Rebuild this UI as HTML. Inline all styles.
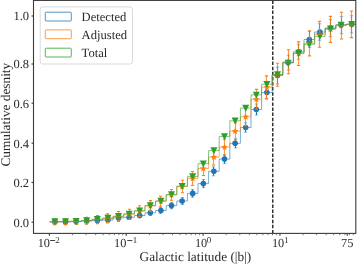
<!DOCTYPE html>
<html><head><meta charset="utf-8"><style>
html,body{margin:0;padding:0;background:#fff;}
svg{display:block;will-change:transform;}
text{font-family:"Liberation Serif",serif;fill:#2a2a2a;text-rendering:geometricPrecision;}
</style></head><body>
<svg width="357" height="265" viewBox="0 0 357 265">
<rect width="357" height="265" fill="#fff"/>
<defs><clipPath id="ax"><rect x="33.5" y="0.4" width="322.3" height="233.0"/></clipPath></defs>

<line x1="272.8" y1="233.4" x2="272.8" y2="0.4" stroke="#000" stroke-width="1.2" stroke-dasharray="3.5 1.6"/>
<g clip-path="url(#ax)">
<line x1="54.50" y1="221.20" x2="54.50" y2="222.80" stroke="#1f77b4" stroke-width="1.1"/>
<line x1="52.80" y1="221.20" x2="56.20" y2="221.20" stroke="#1f77b4" stroke-opacity="0.5" stroke-width="1"/>
<line x1="52.80" y1="222.80" x2="56.20" y2="222.80" stroke="#1f77b4" stroke-opacity="0.5" stroke-width="1"/>
<circle cx="54.90" cy="222.00" r="2.8" fill="#1f77b4"/>
<line x1="65.50" y1="221.00" x2="65.50" y2="222.80" stroke="#1f77b4" stroke-width="1.1"/>
<line x1="63.80" y1="221.00" x2="67.20" y2="221.00" stroke="#1f77b4" stroke-opacity="0.5" stroke-width="1"/>
<line x1="63.80" y1="222.80" x2="67.20" y2="222.80" stroke="#1f77b4" stroke-opacity="0.5" stroke-width="1"/>
<circle cx="65.50" cy="221.90" r="2.8" fill="#1f77b4"/>
<line x1="76.50" y1="220.60" x2="76.50" y2="222.60" stroke="#1f77b4" stroke-width="1.1"/>
<line x1="74.80" y1="220.60" x2="78.20" y2="220.60" stroke="#1f77b4" stroke-opacity="0.5" stroke-width="1"/>
<line x1="74.80" y1="222.60" x2="78.20" y2="222.60" stroke="#1f77b4" stroke-opacity="0.5" stroke-width="1"/>
<circle cx="76.10" cy="221.60" r="2.8" fill="#1f77b4"/>
<line x1="86.50" y1="219.80" x2="86.50" y2="222.20" stroke="#1f77b4" stroke-width="1.1"/>
<line x1="84.80" y1="219.80" x2="88.20" y2="219.80" stroke="#1f77b4" stroke-opacity="0.5" stroke-width="1"/>
<line x1="84.80" y1="222.20" x2="88.20" y2="222.20" stroke="#1f77b4" stroke-opacity="0.5" stroke-width="1"/>
<circle cx="86.70" cy="221.00" r="2.8" fill="#1f77b4"/>
<line x1="97.50" y1="219.20" x2="97.50" y2="222.00" stroke="#1f77b4" stroke-width="1.1"/>
<line x1="95.80" y1="219.20" x2="99.20" y2="219.20" stroke="#1f77b4" stroke-opacity="0.5" stroke-width="1"/>
<line x1="95.80" y1="222.00" x2="99.20" y2="222.00" stroke="#1f77b4" stroke-opacity="0.5" stroke-width="1"/>
<circle cx="97.30" cy="220.60" r="2.8" fill="#1f77b4"/>
<line x1="107.50" y1="218.40" x2="107.50" y2="221.60" stroke="#1f77b4" stroke-width="1.1"/>
<line x1="105.80" y1="218.40" x2="109.20" y2="218.40" stroke="#1f77b4" stroke-opacity="0.5" stroke-width="1"/>
<line x1="105.80" y1="221.60" x2="109.20" y2="221.60" stroke="#1f77b4" stroke-opacity="0.5" stroke-width="1"/>
<circle cx="107.90" cy="220.00" r="2.8" fill="#1f77b4"/>
<line x1="118.50" y1="216.10" x2="118.50" y2="219.70" stroke="#1f77b4" stroke-width="1.1"/>
<line x1="116.80" y1="216.10" x2="120.20" y2="216.10" stroke="#1f77b4" stroke-opacity="0.5" stroke-width="1"/>
<line x1="116.80" y1="219.70" x2="120.20" y2="219.70" stroke="#1f77b4" stroke-opacity="0.5" stroke-width="1"/>
<circle cx="118.50" cy="217.90" r="2.8" fill="#1f77b4"/>
<line x1="129.50" y1="215.30" x2="129.50" y2="219.30" stroke="#1f77b4" stroke-width="1.1"/>
<line x1="127.80" y1="215.30" x2="131.20" y2="215.30" stroke="#1f77b4" stroke-opacity="0.5" stroke-width="1"/>
<line x1="127.80" y1="219.30" x2="131.20" y2="219.30" stroke="#1f77b4" stroke-opacity="0.5" stroke-width="1"/>
<circle cx="129.10" cy="217.30" r="2.8" fill="#1f77b4"/>
<line x1="139.50" y1="213.20" x2="139.50" y2="217.80" stroke="#1f77b4" stroke-width="1.1"/>
<line x1="137.80" y1="213.20" x2="141.20" y2="213.20" stroke="#1f77b4" stroke-opacity="0.5" stroke-width="1"/>
<line x1="137.80" y1="217.80" x2="141.20" y2="217.80" stroke="#1f77b4" stroke-opacity="0.5" stroke-width="1"/>
<circle cx="139.70" cy="215.50" r="2.8" fill="#1f77b4"/>
<line x1="150.50" y1="210.20" x2="150.50" y2="215.40" stroke="#1f77b4" stroke-width="1.1"/>
<line x1="148.80" y1="210.20" x2="152.20" y2="210.20" stroke="#1f77b4" stroke-opacity="0.5" stroke-width="1"/>
<line x1="148.80" y1="215.40" x2="152.20" y2="215.40" stroke="#1f77b4" stroke-opacity="0.5" stroke-width="1"/>
<circle cx="150.30" cy="212.80" r="2.8" fill="#1f77b4"/>
<line x1="160.50" y1="207.60" x2="160.50" y2="213.40" stroke="#1f77b4" stroke-width="1.1"/>
<line x1="158.80" y1="207.60" x2="162.20" y2="207.60" stroke="#1f77b4" stroke-opacity="0.5" stroke-width="1"/>
<line x1="158.80" y1="213.40" x2="162.20" y2="213.40" stroke="#1f77b4" stroke-opacity="0.5" stroke-width="1"/>
<circle cx="160.90" cy="210.50" r="2.8" fill="#1f77b4"/>
<line x1="171.50" y1="202.40" x2="171.50" y2="208.80" stroke="#1f77b4" stroke-width="1.1"/>
<line x1="169.80" y1="202.40" x2="173.20" y2="202.40" stroke="#1f77b4" stroke-opacity="0.5" stroke-width="1"/>
<line x1="169.80" y1="208.80" x2="173.20" y2="208.80" stroke="#1f77b4" stroke-opacity="0.5" stroke-width="1"/>
<circle cx="171.50" cy="205.60" r="2.8" fill="#1f77b4"/>
<line x1="182.50" y1="197.50" x2="182.50" y2="204.50" stroke="#1f77b4" stroke-width="1.1"/>
<line x1="180.80" y1="197.50" x2="184.20" y2="197.50" stroke="#1f77b4" stroke-opacity="0.5" stroke-width="1"/>
<line x1="180.80" y1="204.50" x2="184.20" y2="204.50" stroke="#1f77b4" stroke-opacity="0.5" stroke-width="1"/>
<circle cx="182.10" cy="201.00" r="2.8" fill="#1f77b4"/>
<line x1="192.50" y1="189.60" x2="192.50" y2="197.20" stroke="#1f77b4" stroke-width="1.1"/>
<line x1="190.80" y1="189.60" x2="194.20" y2="189.60" stroke="#1f77b4" stroke-opacity="0.5" stroke-width="1"/>
<line x1="190.80" y1="197.20" x2="194.20" y2="197.20" stroke="#1f77b4" stroke-opacity="0.5" stroke-width="1"/>
<circle cx="192.70" cy="193.40" r="2.8" fill="#1f77b4"/>
<line x1="203.50" y1="179.50" x2="203.50" y2="187.70" stroke="#1f77b4" stroke-width="1.1"/>
<line x1="201.80" y1="179.50" x2="205.20" y2="179.50" stroke="#1f77b4" stroke-opacity="0.5" stroke-width="1"/>
<line x1="201.80" y1="187.70" x2="205.20" y2="187.70" stroke="#1f77b4" stroke-opacity="0.5" stroke-width="1"/>
<circle cx="203.30" cy="183.60" r="2.8" fill="#1f77b4"/>
<line x1="213.50" y1="166.80" x2="213.50" y2="175.80" stroke="#1f77b4" stroke-width="1.1"/>
<line x1="211.80" y1="166.80" x2="215.20" y2="166.80" stroke="#1f77b4" stroke-opacity="0.5" stroke-width="1"/>
<line x1="211.80" y1="175.80" x2="215.20" y2="175.80" stroke="#1f77b4" stroke-opacity="0.5" stroke-width="1"/>
<circle cx="213.90" cy="171.30" r="2.8" fill="#1f77b4"/>
<line x1="224.50" y1="154.60" x2="224.50" y2="163.60" stroke="#1f77b4" stroke-width="1.1"/>
<line x1="222.80" y1="154.60" x2="226.20" y2="154.60" stroke="#1f77b4" stroke-opacity="0.5" stroke-width="1"/>
<line x1="222.80" y1="163.60" x2="226.20" y2="163.60" stroke="#1f77b4" stroke-opacity="0.5" stroke-width="1"/>
<circle cx="224.50" cy="159.10" r="2.8" fill="#1f77b4"/>
<line x1="235.50" y1="138.70" x2="235.50" y2="147.90" stroke="#1f77b4" stroke-width="1.1"/>
<line x1="233.80" y1="138.70" x2="237.20" y2="138.70" stroke="#1f77b4" stroke-opacity="0.5" stroke-width="1"/>
<line x1="233.80" y1="147.90" x2="237.20" y2="147.90" stroke="#1f77b4" stroke-opacity="0.5" stroke-width="1"/>
<circle cx="235.10" cy="143.30" r="2.8" fill="#1f77b4"/>
<line x1="245.50" y1="122.80" x2="245.50" y2="132.20" stroke="#1f77b4" stroke-width="1.1"/>
<line x1="243.80" y1="122.80" x2="247.20" y2="122.80" stroke="#1f77b4" stroke-opacity="0.5" stroke-width="1"/>
<line x1="243.80" y1="132.20" x2="247.20" y2="132.20" stroke="#1f77b4" stroke-opacity="0.5" stroke-width="1"/>
<circle cx="245.70" cy="127.50" r="2.8" fill="#1f77b4"/>
<line x1="256.50" y1="104.00" x2="256.50" y2="115.00" stroke="#1f77b4" stroke-width="1.1"/>
<line x1="254.80" y1="104.00" x2="258.20" y2="104.00" stroke="#1f77b4" stroke-opacity="0.5" stroke-width="1"/>
<line x1="254.80" y1="115.00" x2="258.20" y2="115.00" stroke="#1f77b4" stroke-opacity="0.5" stroke-width="1"/>
<circle cx="256.30" cy="109.50" r="2.8" fill="#1f77b4"/>
<line x1="266.50" y1="86.00" x2="266.50" y2="99.00" stroke="#1f77b4" stroke-width="1.1"/>
<line x1="264.80" y1="86.00" x2="268.20" y2="86.00" stroke="#1f77b4" stroke-opacity="0.5" stroke-width="1"/>
<line x1="264.80" y1="99.00" x2="268.20" y2="99.00" stroke="#1f77b4" stroke-opacity="0.5" stroke-width="1"/>
<circle cx="266.90" cy="92.50" r="2.8" fill="#1f77b4"/>
<line x1="277.50" y1="67.10" x2="277.50" y2="83.90" stroke="#1f77b4" stroke-width="1.1"/>
<line x1="275.80" y1="67.10" x2="279.20" y2="67.10" stroke="#1f77b4" stroke-opacity="0.5" stroke-width="1"/>
<line x1="275.80" y1="83.90" x2="279.20" y2="83.90" stroke="#1f77b4" stroke-opacity="0.5" stroke-width="1"/>
<circle cx="277.50" cy="75.50" r="2.8" fill="#1f77b4"/>
<line x1="288.50" y1="55.10" x2="288.50" y2="70.10" stroke="#1f77b4" stroke-width="1.1"/>
<line x1="286.80" y1="55.10" x2="290.20" y2="55.10" stroke="#1f77b4" stroke-opacity="0.5" stroke-width="1"/>
<line x1="286.80" y1="70.10" x2="290.20" y2="70.10" stroke="#1f77b4" stroke-opacity="0.5" stroke-width="1"/>
<circle cx="288.10" cy="62.60" r="2.8" fill="#1f77b4"/>
<line x1="298.50" y1="44.30" x2="298.50" y2="59.30" stroke="#1f77b4" stroke-width="1.1"/>
<line x1="296.80" y1="44.30" x2="300.20" y2="44.30" stroke="#1f77b4" stroke-opacity="0.5" stroke-width="1"/>
<line x1="296.80" y1="59.30" x2="300.20" y2="59.30" stroke="#1f77b4" stroke-opacity="0.5" stroke-width="1"/>
<circle cx="298.70" cy="51.80" r="2.8" fill="#1f77b4"/>
<line x1="309.50" y1="31.50" x2="309.50" y2="47.50" stroke="#1f77b4" stroke-width="1.1"/>
<line x1="307.80" y1="31.50" x2="311.20" y2="31.50" stroke="#1f77b4" stroke-opacity="0.5" stroke-width="1"/>
<line x1="307.80" y1="47.50" x2="311.20" y2="47.50" stroke="#1f77b4" stroke-opacity="0.5" stroke-width="1"/>
<circle cx="309.30" cy="39.50" r="2.8" fill="#1f77b4"/>
<line x1="319.50" y1="23.70" x2="319.50" y2="40.30" stroke="#1f77b4" stroke-width="1.1"/>
<line x1="317.80" y1="23.70" x2="321.20" y2="23.70" stroke="#1f77b4" stroke-opacity="0.5" stroke-width="1"/>
<line x1="317.80" y1="40.30" x2="321.20" y2="40.30" stroke="#1f77b4" stroke-opacity="0.5" stroke-width="1"/>
<circle cx="319.90" cy="32.00" r="2.8" fill="#1f77b4"/>
<line x1="330.50" y1="19.30" x2="330.50" y2="36.70" stroke="#1f77b4" stroke-width="1.1"/>
<line x1="328.80" y1="19.30" x2="332.20" y2="19.30" stroke="#1f77b4" stroke-opacity="0.5" stroke-width="1"/>
<line x1="328.80" y1="36.70" x2="332.20" y2="36.70" stroke="#1f77b4" stroke-opacity="0.5" stroke-width="1"/>
<circle cx="330.50" cy="28.00" r="2.8" fill="#1f77b4"/>
<line x1="341.50" y1="16.40" x2="341.50" y2="33.60" stroke="#1f77b4" stroke-width="1.1"/>
<line x1="339.80" y1="16.40" x2="343.20" y2="16.40" stroke="#1f77b4" stroke-opacity="0.5" stroke-width="1"/>
<line x1="339.80" y1="33.60" x2="343.20" y2="33.60" stroke="#1f77b4" stroke-opacity="0.5" stroke-width="1"/>
<circle cx="341.10" cy="25.00" r="2.8" fill="#1f77b4"/>
<line x1="351.50" y1="15.70" x2="351.50" y2="32.90" stroke="#1f77b4" stroke-width="1.1"/>
<line x1="349.80" y1="15.70" x2="353.20" y2="15.70" stroke="#1f77b4" stroke-opacity="0.5" stroke-width="1"/>
<line x1="349.80" y1="32.90" x2="353.20" y2="32.90" stroke="#1f77b4" stroke-opacity="0.5" stroke-width="1"/>
<circle cx="351.70" cy="24.30" r="2.8" fill="#1f77b4"/>
<line x1="54.50" y1="219.10" x2="54.50" y2="224.70" stroke="#ff7f0e" stroke-opacity="0.8" stroke-width="1.15"/>
<line x1="52.90" y1="219.10" x2="56.10" y2="219.10" stroke="#ff7f0e" stroke-width="1.1"/>
<line x1="52.90" y1="224.70" x2="56.10" y2="224.70" stroke="#ff7f0e" stroke-width="1.1"/>
<polygon points="54.90,218.30 55.81,220.65 58.32,220.79 56.37,222.38 57.02,224.81 54.90,223.45 52.78,224.81 53.43,222.38 51.48,220.79 53.99,220.65" fill="#ff7f0e"/>
<line x1="65.50" y1="218.80" x2="65.50" y2="224.60" stroke="#ff7f0e" stroke-opacity="0.8" stroke-width="1.15"/>
<line x1="63.90" y1="218.80" x2="67.10" y2="218.80" stroke="#ff7f0e" stroke-width="1.1"/>
<line x1="63.90" y1="224.60" x2="67.10" y2="224.60" stroke="#ff7f0e" stroke-width="1.1"/>
<polygon points="65.50,218.10 66.41,220.45 68.92,220.59 66.97,222.18 67.62,224.61 65.50,223.25 63.38,224.61 64.03,222.18 62.08,220.59 64.59,220.45" fill="#ff7f0e"/>
<line x1="76.50" y1="218.45" x2="76.50" y2="224.45" stroke="#ff7f0e" stroke-opacity="0.8" stroke-width="1.15"/>
<line x1="74.90" y1="218.45" x2="78.10" y2="218.45" stroke="#ff7f0e" stroke-width="1.1"/>
<line x1="74.90" y1="224.45" x2="78.10" y2="224.45" stroke="#ff7f0e" stroke-width="1.1"/>
<polygon points="76.10,217.85 77.01,220.20 79.52,220.34 77.57,221.93 78.22,224.36 76.10,223.00 73.98,224.36 74.63,221.93 72.68,220.34 75.19,220.20" fill="#ff7f0e"/>
<line x1="86.50" y1="217.35" x2="86.50" y2="224.15" stroke="#ff7f0e" stroke-opacity="0.8" stroke-width="1.15"/>
<line x1="84.90" y1="217.35" x2="88.10" y2="217.35" stroke="#ff7f0e" stroke-width="1.1"/>
<line x1="84.90" y1="224.15" x2="88.10" y2="224.15" stroke="#ff7f0e" stroke-width="1.1"/>
<polygon points="86.70,217.15 87.61,219.50 90.12,219.64 88.17,221.23 88.82,223.66 86.70,222.30 84.58,223.66 85.23,221.23 83.28,219.64 85.79,219.50" fill="#ff7f0e"/>
<line x1="97.50" y1="215.60" x2="97.50" y2="223.60" stroke="#ff7f0e" stroke-opacity="0.8" stroke-width="1.15"/>
<line x1="95.90" y1="215.60" x2="99.10" y2="215.60" stroke="#ff7f0e" stroke-width="1.1"/>
<line x1="95.90" y1="223.60" x2="99.10" y2="223.60" stroke="#ff7f0e" stroke-width="1.1"/>
<polygon points="97.30,216.00 98.21,218.35 100.72,218.49 98.77,220.08 99.42,222.51 97.30,221.15 95.18,222.51 95.83,220.08 93.88,218.49 96.39,218.35" fill="#ff7f0e"/>
<line x1="107.50" y1="213.90" x2="107.50" y2="222.90" stroke="#ff7f0e" stroke-opacity="0.8" stroke-width="1.15"/>
<line x1="105.90" y1="213.90" x2="109.10" y2="213.90" stroke="#ff7f0e" stroke-width="1.1"/>
<line x1="105.90" y1="222.90" x2="109.10" y2="222.90" stroke="#ff7f0e" stroke-width="1.1"/>
<polygon points="107.90,214.80 108.81,217.15 111.32,217.29 109.37,218.88 110.02,221.31 107.90,219.95 105.78,221.31 106.43,218.88 104.48,217.29 106.99,217.15" fill="#ff7f0e"/>
<line x1="118.50" y1="211.50" x2="118.50" y2="221.50" stroke="#ff7f0e" stroke-opacity="0.8" stroke-width="1.15"/>
<line x1="116.90" y1="211.50" x2="120.10" y2="211.50" stroke="#ff7f0e" stroke-width="1.1"/>
<line x1="116.90" y1="221.50" x2="120.10" y2="221.50" stroke="#ff7f0e" stroke-width="1.1"/>
<polygon points="118.50,212.90 119.41,215.25 121.92,215.39 119.97,216.98 120.62,219.41 118.50,218.05 116.38,219.41 117.03,216.98 115.08,215.39 117.59,215.25" fill="#ff7f0e"/>
<line x1="129.50" y1="209.20" x2="129.50" y2="219.20" stroke="#ff7f0e" stroke-opacity="0.8" stroke-width="1.15"/>
<line x1="127.90" y1="209.20" x2="131.10" y2="209.20" stroke="#ff7f0e" stroke-width="1.1"/>
<line x1="127.90" y1="219.20" x2="131.10" y2="219.20" stroke="#ff7f0e" stroke-width="1.1"/>
<polygon points="129.10,210.60 130.01,212.95 132.52,213.09 130.57,214.68 131.22,217.11 129.10,215.75 126.98,217.11 127.63,214.68 125.68,213.09 128.19,212.95" fill="#ff7f0e"/>
<line x1="139.50" y1="205.80" x2="139.50" y2="216.20" stroke="#ff7f0e" stroke-opacity="0.8" stroke-width="1.15"/>
<line x1="137.90" y1="205.80" x2="141.10" y2="205.80" stroke="#ff7f0e" stroke-width="1.1"/>
<line x1="137.90" y1="216.20" x2="141.10" y2="216.20" stroke="#ff7f0e" stroke-width="1.1"/>
<polygon points="139.70,207.40 140.61,209.75 143.12,209.89 141.17,211.48 141.82,213.91 139.70,212.55 137.58,213.91 138.23,211.48 136.28,209.89 138.79,209.75" fill="#ff7f0e"/>
<line x1="150.50" y1="200.60" x2="150.50" y2="211.20" stroke="#ff7f0e" stroke-opacity="0.8" stroke-width="1.15"/>
<line x1="148.90" y1="200.60" x2="152.10" y2="200.60" stroke="#ff7f0e" stroke-width="1.1"/>
<line x1="148.90" y1="211.20" x2="152.10" y2="211.20" stroke="#ff7f0e" stroke-width="1.1"/>
<polygon points="150.30,202.30 151.21,204.65 153.72,204.79 151.77,206.38 152.42,208.81 150.30,207.45 148.18,208.81 148.83,206.38 146.88,204.79 149.39,204.65" fill="#ff7f0e"/>
<line x1="160.50" y1="196.30" x2="160.50" y2="206.30" stroke="#ff7f0e" stroke-opacity="0.8" stroke-width="1.15"/>
<line x1="158.90" y1="196.30" x2="162.10" y2="196.30" stroke="#ff7f0e" stroke-width="1.1"/>
<line x1="158.90" y1="206.30" x2="162.10" y2="206.30" stroke="#ff7f0e" stroke-width="1.1"/>
<polygon points="160.90,197.70 161.81,200.05 164.32,200.19 162.37,201.78 163.02,204.21 160.90,202.85 158.78,204.21 159.43,201.78 157.48,200.19 159.99,200.05" fill="#ff7f0e"/>
<line x1="171.50" y1="189.50" x2="171.50" y2="200.30" stroke="#ff7f0e" stroke-opacity="0.8" stroke-width="1.15"/>
<line x1="169.90" y1="189.50" x2="173.10" y2="189.50" stroke="#ff7f0e" stroke-width="1.1"/>
<line x1="169.90" y1="200.30" x2="173.10" y2="200.30" stroke="#ff7f0e" stroke-width="1.1"/>
<polygon points="171.50,191.30 172.41,193.65 174.92,193.79 172.97,195.38 173.62,197.81 171.50,196.45 169.38,197.81 170.03,195.38 168.08,193.79 170.59,193.65" fill="#ff7f0e"/>
<line x1="182.50" y1="180.30" x2="182.50" y2="192.70" stroke="#ff7f0e" stroke-opacity="0.8" stroke-width="1.15"/>
<line x1="180.90" y1="180.30" x2="184.10" y2="180.30" stroke="#ff7f0e" stroke-width="1.1"/>
<line x1="180.90" y1="192.70" x2="184.10" y2="192.70" stroke="#ff7f0e" stroke-width="1.1"/>
<polygon points="182.10,182.90 183.01,185.25 185.52,185.39 183.57,186.98 184.22,189.41 182.10,188.05 179.98,189.41 180.63,186.98 178.68,185.39 181.19,185.25" fill="#ff7f0e"/>
<line x1="192.50" y1="171.45" x2="192.50" y2="185.45" stroke="#ff7f0e" stroke-opacity="0.8" stroke-width="1.15"/>
<line x1="190.90" y1="171.45" x2="194.10" y2="171.45" stroke="#ff7f0e" stroke-width="1.1"/>
<line x1="190.90" y1="185.45" x2="194.10" y2="185.45" stroke="#ff7f0e" stroke-width="1.1"/>
<polygon points="192.70,174.85 193.61,177.20 196.12,177.34 194.17,178.93 194.82,181.36 192.70,180.00 190.58,181.36 191.23,178.93 189.28,177.34 191.79,177.20" fill="#ff7f0e"/>
<line x1="203.50" y1="161.50" x2="203.50" y2="175.50" stroke="#ff7f0e" stroke-opacity="0.8" stroke-width="1.15"/>
<line x1="201.90" y1="161.50" x2="205.10" y2="161.50" stroke="#ff7f0e" stroke-width="1.1"/>
<line x1="201.90" y1="175.50" x2="205.10" y2="175.50" stroke="#ff7f0e" stroke-width="1.1"/>
<polygon points="203.30,164.90 204.21,167.25 206.72,167.39 204.77,168.98 205.42,171.41 203.30,170.05 201.18,171.41 201.83,168.98 199.88,167.39 202.39,167.25" fill="#ff7f0e"/>
<line x1="213.50" y1="149.40" x2="213.50" y2="165.00" stroke="#ff7f0e" stroke-opacity="0.8" stroke-width="1.15"/>
<line x1="211.90" y1="149.40" x2="215.10" y2="149.40" stroke="#ff7f0e" stroke-width="1.1"/>
<line x1="211.90" y1="165.00" x2="215.10" y2="165.00" stroke="#ff7f0e" stroke-width="1.1"/>
<polygon points="213.90,153.60 214.81,155.95 217.32,156.09 215.37,157.68 216.02,160.11 213.90,158.75 211.78,160.11 212.43,157.68 210.48,156.09 212.99,155.95" fill="#ff7f0e"/>
<line x1="224.50" y1="139.20" x2="224.50" y2="155.20" stroke="#ff7f0e" stroke-opacity="0.8" stroke-width="1.15"/>
<line x1="222.90" y1="139.20" x2="226.10" y2="139.20" stroke="#ff7f0e" stroke-width="1.1"/>
<line x1="222.90" y1="155.20" x2="226.10" y2="155.20" stroke="#ff7f0e" stroke-width="1.1"/>
<polygon points="224.50,143.60 225.41,145.95 227.92,146.09 225.97,147.68 226.62,150.11 224.50,148.75 222.38,150.11 223.03,147.68 221.08,146.09 223.59,145.95" fill="#ff7f0e"/>
<line x1="235.50" y1="122.70" x2="235.50" y2="139.70" stroke="#ff7f0e" stroke-opacity="0.8" stroke-width="1.15"/>
<line x1="233.90" y1="122.70" x2="237.10" y2="122.70" stroke="#ff7f0e" stroke-width="1.1"/>
<line x1="233.90" y1="139.70" x2="237.10" y2="139.70" stroke="#ff7f0e" stroke-width="1.1"/>
<polygon points="235.10,127.60 236.01,129.95 238.52,130.09 236.57,131.68 237.22,134.11 235.10,132.75 232.98,134.11 233.63,131.68 231.68,130.09 234.19,129.95" fill="#ff7f0e"/>
<line x1="245.50" y1="107.80" x2="245.50" y2="125.80" stroke="#ff7f0e" stroke-opacity="0.8" stroke-width="1.15"/>
<line x1="243.90" y1="107.80" x2="247.10" y2="107.80" stroke="#ff7f0e" stroke-width="1.1"/>
<line x1="243.90" y1="125.80" x2="247.10" y2="125.80" stroke="#ff7f0e" stroke-width="1.1"/>
<polygon points="245.70,113.20 246.61,115.55 249.12,115.69 247.17,117.28 247.82,119.71 245.70,118.35 243.58,119.71 244.23,117.28 242.28,115.69 244.79,115.55" fill="#ff7f0e"/>
<line x1="256.50" y1="89.40" x2="256.50" y2="109.40" stroke="#ff7f0e" stroke-opacity="0.8" stroke-width="1.15"/>
<line x1="254.90" y1="89.40" x2="258.10" y2="89.40" stroke="#ff7f0e" stroke-width="1.1"/>
<line x1="254.90" y1="109.40" x2="258.10" y2="109.40" stroke="#ff7f0e" stroke-width="1.1"/>
<polygon points="256.30,95.80 257.21,98.15 259.72,98.29 257.77,99.88 258.42,102.31 256.30,100.95 254.18,102.31 254.83,99.88 252.88,98.29 255.39,98.15" fill="#ff7f0e"/>
<line x1="266.50" y1="75.90" x2="266.50" y2="98.60" stroke="#ff7f0e" stroke-opacity="0.8" stroke-width="1.15"/>
<line x1="264.90" y1="75.90" x2="268.10" y2="75.90" stroke="#ff7f0e" stroke-width="1.1"/>
<line x1="264.90" y1="98.60" x2="268.10" y2="98.60" stroke="#ff7f0e" stroke-width="1.1"/>
<polygon points="266.90,83.65 267.81,86.00 270.32,86.14 268.37,87.73 269.02,90.16 266.90,88.80 264.78,90.16 265.43,87.73 263.48,86.14 265.99,86.00" fill="#ff7f0e"/>
<line x1="277.50" y1="63.30" x2="277.50" y2="86.30" stroke="#ff7f0e" stroke-opacity="0.8" stroke-width="1.15"/>
<line x1="275.90" y1="63.30" x2="279.10" y2="63.30" stroke="#ff7f0e" stroke-width="1.1"/>
<line x1="275.90" y1="86.30" x2="279.10" y2="86.30" stroke="#ff7f0e" stroke-width="1.1"/>
<polygon points="277.50,71.20 278.41,73.55 280.92,73.69 278.97,75.28 279.62,77.71 277.50,76.35 275.38,77.71 276.03,75.28 274.08,73.69 276.59,73.55" fill="#ff7f0e"/>
<line x1="288.50" y1="49.80" x2="288.50" y2="73.80" stroke="#ff7f0e" stroke-opacity="0.8" stroke-width="1.15"/>
<line x1="286.90" y1="49.80" x2="290.10" y2="49.80" stroke="#ff7f0e" stroke-width="1.1"/>
<line x1="286.90" y1="73.80" x2="290.10" y2="73.80" stroke="#ff7f0e" stroke-width="1.1"/>
<polygon points="288.10,58.20 289.01,60.55 291.52,60.69 289.57,62.28 290.22,64.71 288.10,63.35 285.98,64.71 286.63,62.28 284.68,60.69 287.19,60.55" fill="#ff7f0e"/>
<line x1="298.50" y1="41.90" x2="298.50" y2="65.50" stroke="#ff7f0e" stroke-opacity="0.8" stroke-width="1.15"/>
<line x1="296.90" y1="41.90" x2="300.10" y2="41.90" stroke="#ff7f0e" stroke-width="1.1"/>
<line x1="296.90" y1="65.50" x2="300.10" y2="65.50" stroke="#ff7f0e" stroke-width="1.1"/>
<polygon points="298.70,50.10 299.61,52.45 302.12,52.59 300.17,54.18 300.82,56.61 298.70,55.25 296.58,56.61 297.23,54.18 295.28,52.59 297.79,52.45" fill="#ff7f0e"/>
<line x1="309.50" y1="30.70" x2="309.50" y2="55.90" stroke="#ff7f0e" stroke-opacity="0.8" stroke-width="1.15"/>
<line x1="307.90" y1="30.70" x2="311.10" y2="30.70" stroke="#ff7f0e" stroke-width="1.1"/>
<line x1="307.90" y1="55.90" x2="311.10" y2="55.90" stroke="#ff7f0e" stroke-width="1.1"/>
<polygon points="309.30,39.70 310.21,42.05 312.72,42.19 310.77,43.78 311.42,46.21 309.30,44.85 307.18,46.21 307.83,43.78 305.88,42.19 308.39,42.05" fill="#ff7f0e"/>
<line x1="319.50" y1="21.40" x2="319.50" y2="47.20" stroke="#ff7f0e" stroke-opacity="0.8" stroke-width="1.15"/>
<line x1="317.90" y1="21.40" x2="321.10" y2="21.40" stroke="#ff7f0e" stroke-width="1.1"/>
<line x1="317.90" y1="47.20" x2="321.10" y2="47.20" stroke="#ff7f0e" stroke-width="1.1"/>
<polygon points="319.90,30.70 320.81,33.05 323.32,33.19 321.37,34.78 322.02,37.21 319.90,35.85 317.78,37.21 318.43,34.78 316.48,33.19 318.99,33.05" fill="#ff7f0e"/>
<line x1="330.50" y1="16.40" x2="330.50" y2="42.40" stroke="#ff7f0e" stroke-opacity="0.8" stroke-width="1.15"/>
<line x1="328.90" y1="16.40" x2="332.10" y2="16.40" stroke="#ff7f0e" stroke-width="1.1"/>
<line x1="328.90" y1="42.40" x2="332.10" y2="42.40" stroke="#ff7f0e" stroke-width="1.1"/>
<polygon points="330.50,25.80 331.41,28.15 333.92,28.29 331.97,29.88 332.62,32.31 330.50,30.95 328.38,32.31 329.03,29.88 327.08,28.29 329.59,28.15" fill="#ff7f0e"/>
<line x1="341.50" y1="12.20" x2="341.50" y2="39.00" stroke="#ff7f0e" stroke-opacity="0.8" stroke-width="1.15"/>
<line x1="339.90" y1="12.20" x2="343.10" y2="12.20" stroke="#ff7f0e" stroke-width="1.1"/>
<line x1="339.90" y1="39.00" x2="343.10" y2="39.00" stroke="#ff7f0e" stroke-width="1.1"/>
<polygon points="341.10,22.00 342.01,24.35 344.52,24.49 342.57,26.08 343.22,28.51 341.10,27.15 338.98,28.51 339.63,26.08 337.68,24.49 340.19,24.35" fill="#ff7f0e"/>
<line x1="351.50" y1="11.00" x2="351.50" y2="37.60" stroke="#ff7f0e" stroke-opacity="0.8" stroke-width="1.15"/>
<line x1="349.90" y1="11.00" x2="353.10" y2="11.00" stroke="#ff7f0e" stroke-width="1.1"/>
<line x1="349.90" y1="37.60" x2="353.10" y2="37.60" stroke="#ff7f0e" stroke-width="1.1"/>
<polygon points="351.70,20.70 352.61,23.05 355.12,23.19 353.17,24.78 353.82,27.21 351.70,25.85 349.58,27.21 350.23,24.78 348.28,23.19 350.79,23.05" fill="#ff7f0e"/>
<polygon points="51.40,218.35 58.40,218.35 54.90,225.40" fill="#2ca02c"/>
<polygon points="62.00,218.15 69.00,218.15 65.50,225.20" fill="#2ca02c"/>
<polygon points="72.60,217.90 79.60,217.90 76.10,224.95" fill="#2ca02c"/>
<polygon points="83.20,217.20 90.20,217.20 86.70,224.25" fill="#2ca02c"/>
<polygon points="93.80,216.05 100.80,216.05 97.30,223.10" fill="#2ca02c"/>
<polygon points="104.40,214.85 111.40,214.85 107.90,221.90" fill="#2ca02c"/>
<polygon points="115.00,212.95 122.00,212.95 118.50,220.00" fill="#2ca02c"/>
<polygon points="125.60,210.65 132.60,210.65 129.10,217.70" fill="#2ca02c"/>
<polygon points="136.20,207.45 143.20,207.45 139.70,214.50" fill="#2ca02c"/>
<polygon points="146.80,202.35 153.80,202.35 150.30,209.40" fill="#2ca02c"/>
<polygon points="157.40,197.75 164.40,197.75 160.90,204.80" fill="#2ca02c"/>
<polygon points="168.00,191.35 175.00,191.35 171.50,198.40" fill="#2ca02c"/>
<polygon points="178.60,183.05 185.60,183.05 182.10,190.10" fill="#2ca02c"/>
<polygon points="189.20,173.35 196.20,173.35 192.70,180.40" fill="#2ca02c"/>
<polygon points="199.80,160.45 206.80,160.45 203.30,167.50" fill="#2ca02c"/>
<polygon points="210.40,147.35 217.40,147.35 213.90,154.40" fill="#2ca02c"/>
<polygon points="221.00,133.15 228.00,133.15 224.50,140.20" fill="#2ca02c"/>
<polygon points="231.60,117.55 238.60,117.55 235.10,124.60" fill="#2ca02c"/>
<polygon points="242.20,104.85 249.20,104.85 245.70,111.90" fill="#2ca02c"/>
<polygon points="252.80,91.65 259.80,91.65 256.30,98.70" fill="#2ca02c"/>
<polygon points="263.40,80.95 270.40,80.95 266.90,88.00" fill="#2ca02c"/>
<polygon points="274.00,71.25 281.00,71.25 277.50,78.30" fill="#2ca02c"/>
<polygon points="284.60,59.65 291.60,59.65 288.10,66.70" fill="#2ca02c"/>
<polygon points="295.20,49.85 302.20,49.85 298.70,56.90" fill="#2ca02c"/>
<polygon points="305.80,41.05 312.80,41.05 309.30,48.10" fill="#2ca02c"/>
<polygon points="316.40,33.05 323.40,33.05 319.90,40.10" fill="#2ca02c"/>
<polygon points="327.00,25.45 334.00,25.45 330.50,32.50" fill="#2ca02c"/>
<polygon points="337.60,21.65 344.60,21.65 341.10,28.70" fill="#2ca02c"/>
<polygon points="348.20,21.05 355.20,21.05 351.70,28.10" fill="#2ca02c"/>
</g>
<g clip-path="url(#ax)" fill="none" stroke-width="1">
<path d="M49.60,222.00 H60.20 V221.90 H70.80 V221.60 H81.40 V221.00 H92.00 V220.60 H102.60 V220.00 H113.20 V217.90 H123.80 V217.30 H134.40 V215.50 H145.00 V212.80 H155.60 V210.50 H166.20 V205.60 H176.80 V201.00 H187.40 V193.40 H198.00 V183.60 H208.60 V171.30 H219.20 V159.10 H229.80 V143.30 H240.40 V127.50 H251.00 V109.50 H261.60 V92.50 H272.20 V75.50 H282.80 V62.60 H293.40 V51.80 H304.00 V39.50 H314.60 V32.00 H325.20 V28.00 H335.80 V25.00 H346.40 V24.30 H357.00" stroke="#1f77b4" stroke-opacity="0.6"/>
<path d="M49.60,221.90 H60.20 V221.70 H70.80 V221.45 H81.40 V220.75 H92.00 V219.60 H102.60 V218.40 H113.20 V216.50 H123.80 V214.20 H134.40 V211.00 H145.00 V205.90 H155.60 V201.30 H166.20 V194.90 H176.80 V186.50 H187.40 V178.45 H198.00 V168.50 H208.60 V157.20 H219.20 V147.20 H229.80 V131.20 H240.40 V116.80 H251.00 V99.40 H261.60 V87.25 H272.20 V74.80 H282.80 V61.80 H293.40 V53.70 H304.00 V43.30 H314.60 V34.30 H325.20 V29.40 H335.80 V25.60 H346.40 V24.30 H357.00" stroke="#ff7f0e" stroke-opacity="0.6"/>
<path d="M49.60,221.60 H60.20 V221.40 H70.80 V221.15 H81.40 V220.45 H92.00 V219.30 H102.60 V218.10 H113.20 V216.20 H123.80 V213.90 H134.40 V210.70 H145.00 V205.60 H155.60 V201.00 H166.20 V194.60 H176.80 V186.30 H187.40 V176.60 H198.00 V163.70 H208.60 V150.60 H219.20 V136.40 H229.80 V120.80 H240.40 V108.10 H251.00 V94.90 H261.60 V84.20 H272.20 V74.50 H282.80 V62.90 H293.40 V53.10 H304.00 V44.30 H314.60 V36.30 H325.20 V28.70 H335.80 V24.90 H346.40 V24.30 H357.00" stroke="#2ca02c" stroke-opacity="0.6"/>
</g>
<rect x="33.5" y="0.4" width="322.3" height="233.0" fill="none" stroke="#3a3a3a" stroke-width="1.1"/>
<line x1="31.5" y1="222.2" x2="33.5" y2="222.2" stroke="#3a3a3a" stroke-width="1.1"/>
<text x="29.0" y="226.5" font-size="12.5" text-anchor="end">0.0</text>
<line x1="31.5" y1="182.5" x2="33.5" y2="182.5" stroke="#3a3a3a" stroke-width="1.1"/>
<text x="29.0" y="186.8" font-size="12.5" text-anchor="end">0.2</text>
<line x1="31.5" y1="143.2" x2="33.5" y2="143.2" stroke="#3a3a3a" stroke-width="1.1"/>
<text x="29.0" y="147.5" font-size="12.5" text-anchor="end">0.4</text>
<line x1="31.5" y1="103.2" x2="33.5" y2="103.2" stroke="#3a3a3a" stroke-width="1.1"/>
<text x="29.0" y="107.5" font-size="12.5" text-anchor="end">0.6</text>
<line x1="31.5" y1="64.0" x2="33.5" y2="64.0" stroke="#3a3a3a" stroke-width="1.1"/>
<text x="29.0" y="68.3" font-size="12.5" text-anchor="end">0.8</text>
<line x1="31.5" y1="16.0" x2="33.5" y2="16.0" stroke="#3a3a3a" stroke-width="1.1"/>
<text x="29.0" y="20.3" font-size="12.5" text-anchor="end">1.0</text>
<line x1="49.40" y1="233.4" x2="49.40" y2="235.8" stroke="#3a3a3a" stroke-width="1.1"/>
<line x1="72.53" y1="233.4" x2="72.53" y2="235.20000000000002" stroke="#555" stroke-width="0.8"/>
<line x1="86.07" y1="233.4" x2="86.07" y2="235.20000000000002" stroke="#555" stroke-width="0.8"/>
<line x1="95.67" y1="233.4" x2="95.67" y2="235.20000000000002" stroke="#555" stroke-width="0.8"/>
<line x1="103.12" y1="233.4" x2="103.12" y2="235.20000000000002" stroke="#555" stroke-width="0.8"/>
<line x1="109.20" y1="233.4" x2="109.20" y2="235.20000000000002" stroke="#555" stroke-width="0.8"/>
<line x1="114.35" y1="233.4" x2="114.35" y2="235.20000000000002" stroke="#555" stroke-width="0.8"/>
<line x1="118.80" y1="233.4" x2="118.80" y2="235.20000000000002" stroke="#555" stroke-width="0.8"/>
<line x1="122.73" y1="233.4" x2="122.73" y2="235.20000000000002" stroke="#555" stroke-width="0.8"/>
<line x1="126.25" y1="233.4" x2="126.25" y2="235.8" stroke="#3a3a3a" stroke-width="1.1"/>
<line x1="149.38" y1="233.4" x2="149.38" y2="235.20000000000002" stroke="#555" stroke-width="0.8"/>
<line x1="162.92" y1="233.4" x2="162.92" y2="235.20000000000002" stroke="#555" stroke-width="0.8"/>
<line x1="172.52" y1="233.4" x2="172.52" y2="235.20000000000002" stroke="#555" stroke-width="0.8"/>
<line x1="179.97" y1="233.4" x2="179.97" y2="235.20000000000002" stroke="#555" stroke-width="0.8"/>
<line x1="186.05" y1="233.4" x2="186.05" y2="235.20000000000002" stroke="#555" stroke-width="0.8"/>
<line x1="191.20" y1="233.4" x2="191.20" y2="235.20000000000002" stroke="#555" stroke-width="0.8"/>
<line x1="195.65" y1="233.4" x2="195.65" y2="235.20000000000002" stroke="#555" stroke-width="0.8"/>
<line x1="199.58" y1="233.4" x2="199.58" y2="235.20000000000002" stroke="#555" stroke-width="0.8"/>
<line x1="203.10" y1="233.4" x2="203.10" y2="235.8" stroke="#3a3a3a" stroke-width="1.1"/>
<line x1="226.23" y1="233.4" x2="226.23" y2="235.20000000000002" stroke="#555" stroke-width="0.8"/>
<line x1="239.77" y1="233.4" x2="239.77" y2="235.20000000000002" stroke="#555" stroke-width="0.8"/>
<line x1="249.37" y1="233.4" x2="249.37" y2="235.20000000000002" stroke="#555" stroke-width="0.8"/>
<line x1="256.82" y1="233.4" x2="256.82" y2="235.20000000000002" stroke="#555" stroke-width="0.8"/>
<line x1="262.90" y1="233.4" x2="262.90" y2="235.20000000000002" stroke="#555" stroke-width="0.8"/>
<line x1="268.05" y1="233.4" x2="268.05" y2="235.20000000000002" stroke="#555" stroke-width="0.8"/>
<line x1="272.50" y1="233.4" x2="272.50" y2="235.20000000000002" stroke="#555" stroke-width="0.8"/>
<line x1="276.43" y1="233.4" x2="276.43" y2="235.20000000000002" stroke="#555" stroke-width="0.8"/>
<line x1="279.95" y1="233.4" x2="279.95" y2="235.8" stroke="#3a3a3a" stroke-width="1.1"/>
<line x1="303.08" y1="233.4" x2="303.08" y2="235.20000000000002" stroke="#555" stroke-width="0.8"/>
<line x1="316.62" y1="233.4" x2="316.62" y2="235.20000000000002" stroke="#555" stroke-width="0.8"/>
<line x1="326.22" y1="233.4" x2="326.22" y2="235.20000000000002" stroke="#555" stroke-width="0.8"/>
<line x1="333.67" y1="233.4" x2="333.67" y2="235.20000000000002" stroke="#555" stroke-width="0.8"/>
<line x1="339.75" y1="233.4" x2="339.75" y2="235.20000000000002" stroke="#555" stroke-width="0.8"/>
<line x1="344.90" y1="233.4" x2="344.90" y2="235.20000000000002" stroke="#555" stroke-width="0.8"/>
<line x1="349.35" y1="233.4" x2="349.35" y2="235.20000000000002" stroke="#555" stroke-width="0.8"/>
<line x1="353.28" y1="233.4" x2="353.28" y2="235.20000000000002" stroke="#555" stroke-width="0.8"/>
<line x1="347.20" y1="233.4" x2="347.20" y2="235.8" stroke="#3a3a3a" stroke-width="1.1"/>
<text x="37.63" y="247.0" font-size="12.3">10</text>
<rect x="50.10" y="240.05" width="5.00" height="0.9" fill="#2a2a2a"/>
<text x="55.22" y="242.6" font-size="8.9">2</text>
<text x="114.08" y="247.0" font-size="12.3">10</text>
<rect x="127.25" y="240.15" width="5.10" height="0.9" fill="#2a2a2a"/>
<text x="132.78" y="242.6" font-size="8.9">1</text>
<text x="194.93" y="247.0" font-size="12.3">10</text>
<text x="206.76" y="242.6" font-size="8.9">0</text>
<text x="271.88" y="247.0" font-size="12.3">10</text>
<text x="284.18" y="242.6" font-size="8.9">1</text>
<text x="347.20" y="247.1" font-size="12.4" text-anchor="middle">75</text>
<text x="195.4" y="261.3" font-size="13.3" text-anchor="middle">Galactic latitude (|b|)</text>
<text transform="translate(10.4,114.7) rotate(-90)" x="0" y="0" font-size="13.3" text-anchor="middle">Cumulative desnity</text>
<rect x="40.2" y="6.9" width="92.3" height="57.1" rx="2.5" ry="2.5" fill="#fff" fill-opacity="0.8" stroke="#dadada" stroke-width="1"/>
<rect x="45.3" y="12.2" width="26" height="8.8" rx="0.8" fill="none" stroke="#1f77b4" stroke-opacity="0.78" stroke-width="1"/>
<text x="81.6" y="21.2" font-size="12.6">Detected</text>
<rect x="45.3" y="29.9" width="26" height="8.8" rx="0.8" fill="none" stroke="#ff7f0e" stroke-opacity="0.78" stroke-width="1"/>
<text x="81.6" y="38.9" font-size="12.6">Adjusted</text>
<rect x="45.3" y="48.2" width="26" height="8.8" rx="0.8" fill="none" stroke="#2ca02c" stroke-opacity="0.78" stroke-width="1"/>
<text x="81.6" y="57.2" font-size="12.6">Total</text>
</svg></body></html>
